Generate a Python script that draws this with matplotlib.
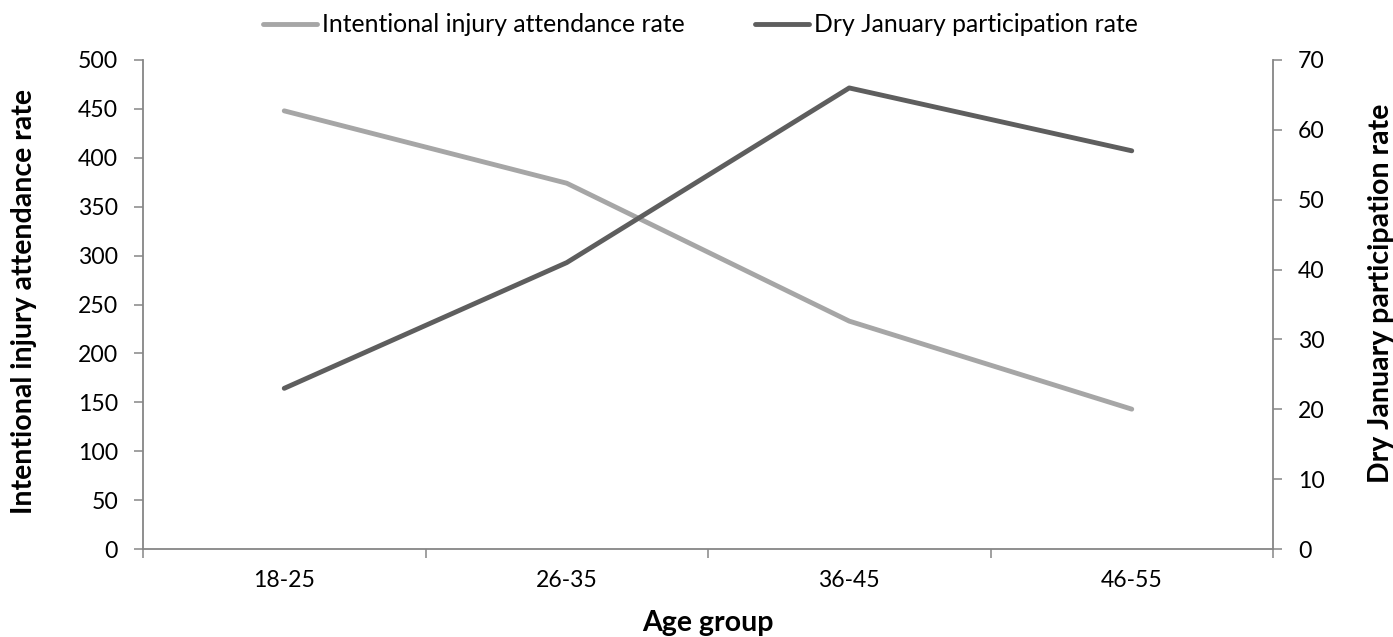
import matplotlib
matplotlib.use("Agg")
import matplotlib.pyplot as plt
from matplotlib import font_manager
import numpy as np

# data
age_groups = ['18-25', '26-35', '36-45', '46-55']
injury_rate = [448, 374, 233, 143]      # left axis
dry_jan_rate = [23, 41, 66, 57]         # right axis

light = '#a6a6a6'
dark = '#5e5e5e'
axis_col = '#868686'

# pick a family that really has a bold face
def has_bold(name):
    return any(f.name == name and (f.weight in ('bold', 'semibold') or
               (isinstance(f.weight, int) and f.weight >= 600))
               for f in font_manager.fontManager.ttflist)

reg_family = 'Lato'
bold_family = next((n for n in ['Lato', 'Open Sans', 'Noto Sans'] if has_bold(n)), 'DejaVu Sans')
plt.rcParams['font.family'] = [reg_family, 'DejaVu Sans']

W, H = 1393, 637
fig = plt.figure(figsize=(W/100, H/100), dpi=100)
renderer = fig.canvas.get_renderer()

def fit_size(s, target_px, family, weight='normal'):
    t = fig.text(0, 0, s, fontsize=10, family=family, fontweight=weight)
    w = t.get_window_extent(renderer).width
    t.remove()
    return 10 * target_px / w

tick_fs = fit_size('500', 40, reg_family)
leg_fs = fit_size('Intentional injury attendance rate', 363, reg_family)
lab_fs = fit_size('Intentional injury attendance rate', 427, bold_family, 'bold')

ax = fig.add_axes([143/W, 1 - 549/H, (1273 - 143)/W, (549 - 60)/H])
ax2 = ax.twinx()

x = np.arange(len(age_groups))
l1, = ax.plot(x, injury_rate, color=light, lw=3.5, solid_capstyle='round',
              label='Intentional injury attendance rate')
l2, = ax2.plot(x, dry_jan_rate, color=dark, lw=3.5, solid_capstyle='round',
               label='Dry January participation rate')

ax.set_xlim(-0.5, len(age_groups) - 0.5)
ax.set_ylim(0, 500)
ax.set_yticks(np.arange(0, 501, 50))
ax2.set_ylim(0, 70)
ax2.set_yticks(np.arange(0, 71, 10))

# category ticks between groups, labels centred
ax.set_xticks(np.arange(-0.5, len(age_groups), 1.0))
ax.set_xticklabels([])
ax.set_xticks(x, minor=True)
ax.set_xticklabels(age_groups, minor=True)
ax.tick_params(axis='x', which='major', length=6.5, width=1.1, color=axis_col, direction='out')
ax.tick_params(axis='x', which='minor', length=0, pad=15, labelsize=tick_fs)

ax.tick_params(axis='y', length=6.5, width=1.1, color=axis_col, pad=11.5, labelsize=tick_fs)
ax2.tick_params(axis='y', length=6.5, width=1.1, color=axis_col, pad=11.5, labelsize=tick_fs)

for a in (ax, ax2):
    a.spines['top'].set_visible(False)
    for s in ('left', 'right', 'bottom'):
        a.spines[s].set_color(axis_col)
        a.spines[s].set_linewidth(1.3)
ax.spines['right'].set_visible(False)
ax2.spines['left'].set_visible(False)
ax2.spines['bottom'].set_visible(False)

fig.text(708/W, 1 - 631/H, 'Age group', ha='center', va='baseline',
         fontsize=lab_fs, family=bold_family, fontweight='bold')
fig.text(24/W, 1 - 302/H, 'Intentional injury attendance rate', rotation=90,
         ha='center', va='center', fontsize=lab_fs, family=bold_family, fontweight='bold')
fig.text(1381/W, 1 - 293/H, 'Dry January participation rate', rotation=90,
         ha='center', va='center', fontsize=lab_fs, family=bold_family, fontweight='bold')

em = leg_fs * 100 / 72
fig.legend(handles=[l1, l2], loc='center left', bbox_to_anchor=(263/W, 1 - 25/H),
           ncol=2, frameon=False, fontsize=leg_fs, borderpad=0, borderaxespad=0,
           handlelength=54/em, handletextpad=5/em, columnspacing=70/em)

fig.savefig('out.png', dpi=100)
